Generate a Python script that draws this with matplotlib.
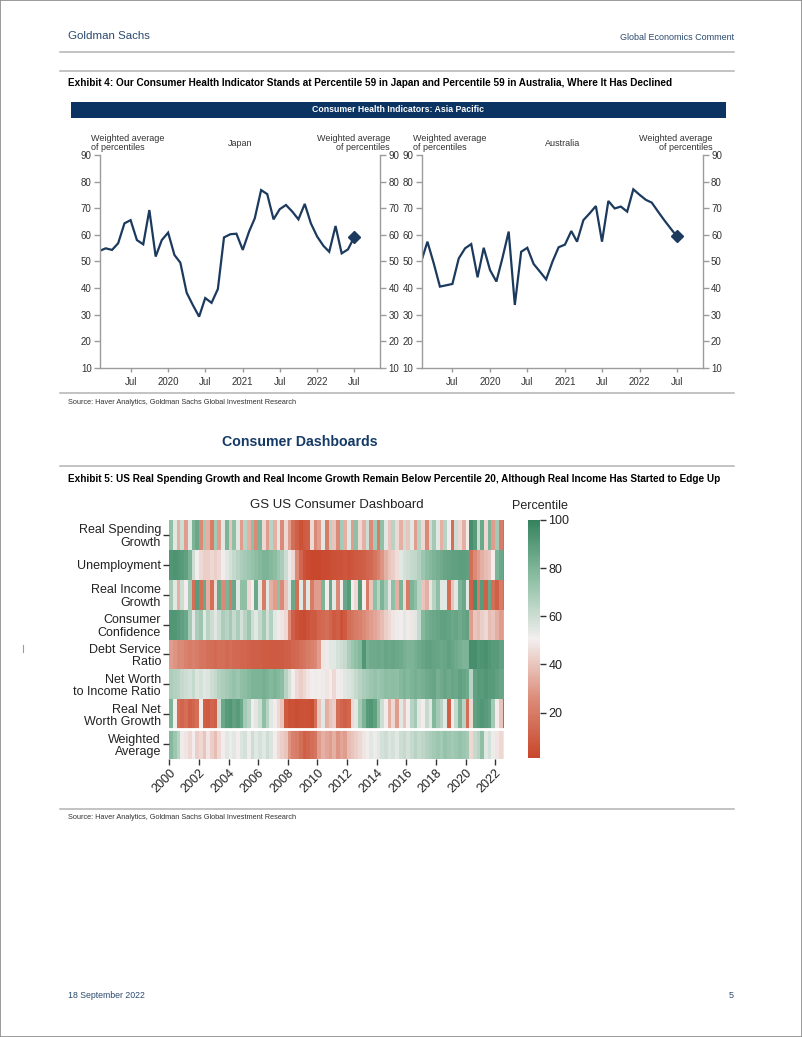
import numpy as np
import pandas as pd
import matplotlib
matplotlib.use("Agg")
import matplotlib.pyplot as plt
from matplotlib.colors import LinearSegmentedColormap
from matplotlib.lines import Line2D
from matplotlib.patches import Rectangle

W, H = 802, 1037
ARIAL = ["Liberation Sans", "DejaVu Sans"]
NAVY = "#0c3462"
SLATE = "#2c4a6e"
RULE = "#b3b3b3"
LINE = "#1b3a5e"
SOURCE = "Source: Haver Analytics, Goldman Sachs Global Investment Research"

# ---------------------------------------------------------------- exhibit 4 data (monthly, from Feb 2019)
HEALTH_START = "2019-02-01"
HEALTH_XMAX = "2022-11-05"
japan = [54.0, 54.9, 54.3, 56.8, 64.3, 65.5, 58.0, 56.4, 69.3, 51.8,
         58.0, 60.8, 52.4, 49.5, 38.2, 33.6, 29.2, 36.2, 34.4, 39.6,
         59.0, 60.2, 60.4, 54.3, 61.2, 66.2, 76.8, 75.3, 65.8, 69.6,
         71.2, 68.7, 65.8, 71.6, 64.3, 59.3, 55.8, 53.6, 63.3, 53.0,
         54.5, 59.0]
australia = [50.5, 57.4, 49.2, 40.5, 41.0, 41.5, 51.1, 54.9, 56.5, 44.0,
             55.1, 46.7, 42.4, 51.1, 61.2, 33.6, 53.6, 55.1, 49.0, 46.1,
             43.2, 49.9, 55.3, 56.3, 61.4, 57.4, 65.5, 68.0, 70.8, 57.4,
             72.7, 69.9, 70.6, 68.7, 77.1, 75.0, 73.1, 72.1, 68.7, 65.5,
             62.4, 59.5]

# ---------------------------------------------------------------- exhibit 5 data (quarterly percentiles, 2000Q1-2022Q3)
FIRST_QUARTER, LAST_QUARTER = "2000Q1", "2022Q3"
LAST_MONTH = "2022-07"
dashboard_labels = ["Real Spending\nGrowth", "Unemployment", "Real Income\nGrowth",
                    "Consumer\nConfidence", "Debt Service\nRatio",
                    "Net Worth\nto Income Ratio", "Real Net\nWorth Growth",
                    "Weighted\nAverage"]
real_spending = [75, 55, 35, 60, 30, 55, 80, 85, 25, 70, 35, 20, 70, 30, 55, 80,
                 40, 75, 55, 30, 65, 35, 75, 25, 80, 45, 30, 65, 35, 55, 25, 45,
                 30, 15, 10, 5, 8, 10, 45, 25, 30, 55, 20, 65, 40, 25, 70, 35,
                 55, 30, 75, 45, 35, 60, 25, 70, 20, 75, 55, 40, 65, 45, 35, 60,
                 40, 55, 30, 65, 45, 25, 60, 70, 55, 35, 65, 50, 15, 60, 45, 35,
                 50, 95, 90, 60, 85, 45, 80, 30, 70, 20, 15]
unemployment = [92, 93, 92, 90, 88, 80, 60, 50, 45, 42, 42, 45, 42, 45, 50, 55,
                58, 62, 65, 68, 70, 72, 74, 76, 78, 80, 80, 78, 76, 72, 68, 60,
                52, 45, 25, 12, 5, 3, 2, 2, 2, 3, 3, 4, 5, 6, 6, 7,
                6, 7, 8, 9, 10, 12, 14, 18, 22, 28, 35, 40, 42, 46, 55, 58,
                60, 62, 63, 66, 72, 76, 78, 80, 82, 84, 86, 87, 88, 88, 89, 89,
                88, 15, 25, 30, 35, 38, 40, 50, 80, 85, 88]
real_income = [70, 55, 35, 60, 50, 70, 15, 90, 15, 85, 35, 15, 45, 85, 25, 80,
               20, 85, 55, 75, 75, 45, 50, 85, 55, 20, 55, 35, 30, 75, 25, 40,
               55, 85, 15, 55, 20, 55, 20, 30, 30, 80, 50, 85, 55, 25, 50, 85,
               90, 50, 45, 90, 50, 20, 40, 75, 65, 80, 70, 55, 75, 35, 80, 45,
               20, 80, 75, 65, 40, 35, 55, 65, 75, 55, 55, 15, 40, 55, 80, 85,
               55, 10, 95, 20, 90, 10, 85, 15, 10, 20, 15]
consumer_confidence = [92, 92, 90, 88, 85, 70, 55, 68, 72, 55, 65, 60, 55, 60, 68, 65,
                       70, 62, 68, 58, 65, 72, 60, 55, 62, 70, 58, 66, 55, 52, 48, 45,
                       25, 10, 6, 4, 3, 6, 8, 8, 12, 14, 15, 12, 8, 10, 5, 8,
                       15, 18, 20, 22, 25, 28, 30, 32, 35, 38, 42, 45, 48, 52, 50, 55,
                       52, 48, 55, 62, 78, 82, 84, 85, 86, 88, 88, 87, 85, 86, 84, 86,
                       88, 30, 40, 38, 42, 45, 38, 40, 35, 30, 32]
debt_service = [30, 28, 25, 25, 22, 20, 22, 20, 18, 18, 16, 15, 14, 15, 15, 14,
                15, 14, 13, 12, 12, 11, 10, 10, 10, 9, 9, 8, 8, 8, 9, 10,
                10, 12, 14, 16, 18, 20, 22, 24, 30, 48, 52, 55, 55, 58, 60, 62,
                68, 72, 75, 78, 92, 82, 84, 84, 85, 84, 86, 85, 86, 85, 84, 82,
                80, 80, 82, 84, 86, 88, 88, 87, 86, 85, 86, 88, 86, 84, 82, 80,
                80, 95, 95, 92, 93, 94, 92, 90, 90, 88, 88]
net_worth_income = [68, 66, 65, 62, 60, 58, 62, 56, 58, 55, 56, 60, 62, 66, 68, 70,
                    72, 74, 72, 75, 76, 78, 80, 80, 80, 82, 80, 78, 80, 78, 76, 65,
                    58, 50, 45, 42, 45, 48, 50, 52, 50, 52, 48, 50, 45, 50, 52, 55,
                    56, 58, 62, 65, 68, 70, 72, 74, 72, 74, 76, 75, 76, 75, 78, 80,
                    78, 80, 82, 80, 82, 84, 85, 86, 82, 84, 86, 84, 86, 85, 88, 86,
                    84, 65, 88, 90, 90, 92, 90, 90, 88, 86, 85]
real_net_worth = [80, 50, 15, 12, 15, 10, 12, 15, 50, 10, 8, 12, 10, 60, 85, 90,
                  92, 88, 90, 85, 70, 65, 50, 55, 60, 75, 65, 55, 50, 45, 40, 8,
                  5, 5, 4, 5, 6, 5, 4, 15, 40, 55, 35, 40, 42, 15, 12, 10,
                  12, 45, 55, 70, 80, 90, 92, 88, 75, 60, 50, 35, 45, 30, 55, 40,
                  50, 65, 70, 55, 50, 62, 55, 78, 70, 65, 55, 10, 50, 62, 80, 65,
                  15, 45, 88, 90, 92, 90, 88, 70, 50, 40, 10]
weighted_average = [78, 72, 65, 52, 48, 45, 50, 42, 45, 40, 48, 42, 38, 45, 50, 55,
                    52, 55, 50, 56, 58, 52, 60, 55, 58, 55, 60, 56, 50, 45, 42, 40,
                    28, 22, 20, 15, 10, 12, 15, 18, 30, 35, 32, 30, 35, 28, 32, 30,
                    38, 40, 42, 45, 48, 50, 55, 52, 55, 58, 60, 56, 58, 55, 60, 62,
                    58, 62, 65, 62, 64, 66, 68, 70, 72, 70, 74, 72, 70, 72, 74, 72,
                    70, 45, 62, 65, 75, 55, 58, 52, 48, 45, 48]
dashboard_rows = [real_spending, unemployment, real_income, consumer_confidence,
                  debt_service, net_worth_income, real_net_worth, weighted_average]


def fx(px):
    return px / W


def fy(py):
    return 1 - py / H


def hrule(fig, y, x0=60, x1=734):
    fig.add_artist(Line2D([fx(x0), fx(x1)], [fy(y), fy(y)], color=RULE, lw=1.1))


def fitted_text(fig, x, y, s, width_px, **kw):
    """Place a text and scale its font so it spans width_px pixels (no narrow font here)."""
    t = fig.text(fx(x), fy(y), s, family=ARIAL, va="center", **kw)
    w = t.get_window_extent(fig.canvas.get_renderer()).width
    t.set_fontsize(t.get_fontsize() * width_px / w)
    return t


def health_panel(fig, left, right, values, country):
    top, bottom = 155, 367.7
    ax = fig.add_axes([fx(left), fy(bottom), (right - left) / W, (bottom - top) / H])
    dates = pd.date_range(HEALTH_START, periods=len(values), freq="MS")
    ax.plot(dates, values, color=LINE, lw=1.6, solid_joinstyle="miter")
    ax.plot(dates[-1:], values[-1:], marker="D", ms=6, color=LINE, ls="none")
    ax.set_ylim(10, 90)
    ax.set_xlim(dates[0], pd.Timestamp(HEALTH_XMAX))
    ax.set_yticks(range(10, 91, 10))
    ticks = pd.date_range("2019-07-01", "2022-07-01", freq="6MS")
    ax.set_xticks(ticks)
    ax.set_xticklabels(["Jul" if t.month == 7 else str(t.year) for t in ticks])
    ax.spines["top"].set_visible(False)
    for side in ("left", "right", "bottom"):
        ax.spines[side].set_color("#9c9c9c")
        ax.spines[side].set_linewidth(1)
    ax.tick_params(axis="y", left=True, right=True, labelleft=True, labelright=True,
                   length=4, width=1, color="#9c9c9c", labelsize=7, labelcolor="#333333", pad=2)
    ax.tick_params(axis="x", length=3, width=1, color="#9c9c9c", labelsize=7,
                   labelcolor="#333333", pad=4)
    for lab in ax.get_xticklabels() + ax.yaxis.get_ticklabels() + ax.yaxis.get_ticklabels(minor=False):
        lab.set_family(ARIAL)
    for tick in ax.yaxis.get_major_ticks():
        tick.label2.set_family(ARIAL)
    fig.text(fx(left - 9), fy(143), "Weighted average\nof percentiles", family=ARIAL,
             size=6.5, color="#333333", ha="left", va="center", linespacing=0.95)
    fig.text(fx(right + 10), fy(143), "Weighted average\nof percentiles", family=ARIAL,
             size=6.5, color="#333333", ha="right", va="center", linespacing=0.95)
    fig.text(fx((left + right) / 2), fy(143.5), country, family=ARIAL, size=6.5,
             color="#333333", ha="center", va="center")
    return ax


fig = plt.figure(figsize=(W / 100, H / 100), dpi=100)
fig.add_artist(Rectangle((0, 0), 1, 1, transform=fig.transFigure, fill=False,
                         ec="#8a8a8a", lw=1.2))

# ---------------------------------------------------------------- page header
fitted_text(fig, 68, 36, "Goldman Sachs", 82, color=SLATE)
fitted_text(fig, 734, 38, "Global Economics Comment", 114, color=SLATE, ha="right")
hrule(fig, 51.5)

# ---------------------------------------------------------------- exhibit 4
hrule(fig, 70.5)
fitted_text(fig, 68, 83, "Exhibit 4: Our Consumer Health Indicator Stands at Percentile 59 in Japan "
            "and Percentile 59 in Australia, Where It Has Declined", 606,
            weight="bold", color="black")
fig.add_artist(Rectangle((fx(71), fy(118)), fx(726) - fx(71), 16 / H,
                         transform=fig.transFigure, color=NAVY, lw=0))
fitted_text(fig, 398.5, 110, "Consumer Health Indicators: Asia Pacific", 170,
            weight="bold", color="white", ha="center")

health_panel(fig, 100, 380, japan, "Japan")
health_panel(fig, 421.7, 702.7, australia, "Australia")

hrule(fig, 393)
fitted_text(fig, 68, 403, SOURCE, 229, color="#333333")

# ---------------------------------------------------------------- section heading
fitted_text(fig, 222, 441.5, "Consumer Dashboards", 155, weight="bold", color="#153a66")

# ---------------------------------------------------------------- exhibit 5
hrule(fig, 466)
fitted_text(fig, 68, 479.5, "Exhibit 5: US Real Spending Growth and Real Income Growth Remain Below "
            "Percentile 20, Although Real Income Has Started to Edge Up", 650,
            weight="bold", color="black")

quarters = pd.period_range(FIRST_QUARTER, LAST_QUARTER, freq="Q")
q_starts = np.array([q.year + (q.quarter - 1) / 4 for q in quarters])
end = pd.Period(LAST_MONTH, freq="M")
x_edges = np.append(q_starts, end.year + end.month / 12)
matrix = np.array(dashboard_rows, dtype=float)

cmap = LinearSegmentedColormap.from_list(
    "gs_rdgn", ["#c8462b", "#dc8c79", "#f3efef", "#8fc0a6", "#35835e"])

hm_left, hm_right, hm_top, hm_bottom = 169.3, 503.8, 520, 759
ax = fig.add_axes([fx(hm_left), fy(hm_bottom), (hm_right - hm_left) / W, (hm_bottom - hm_top) / H])
mesh = ax.pcolormesh(x_edges, np.arange(len(dashboard_rows) + 1), matrix,
                     cmap=cmap, vmin=1, vmax=100, shading="flat")
ax.set_ylim(len(dashboard_rows), 0)
ax.set_xlim(x_edges[0], x_edges[-1])
ax.axhline(len(dashboard_rows) - 1, color="white", lw=2)
ax.set_yticks(np.arange(len(dashboard_rows)) + 0.5)
ax.set_yticklabels(dashboard_labels, family=ARIAL, size=9, color="#222222", linespacing=1.05)
ax.set_xticks(range(2000, 2023, 2))
ax.set_xticklabels([str(y) for y in range(2000, 2023, 2)], family=ARIAL, size=9,
                   color="#222222", rotation=45, ha="right", rotation_mode="anchor")
ax.tick_params(length=4, width=1, color="#333333", pad=2)
for spine in ax.spines.values():
    spine.set_visible(False)
fig.text(fx((hm_left + hm_right) / 2), fy(505.5), "GS US Consumer Dashboard", family=ARIAL,
         size=9.5, color="#222222", ha="center", va="center")

cax = fig.add_axes([fx(528.3), fy(758.3), 11.7 / W, (758.3 - 520) / H])
cb = fig.colorbar(mesh, cax=cax, ticks=[20, 40, 60, 80, 100])
cb.outline.set_visible(False)
cax.tick_params(length=4, width=1, color="#333333", labelsize=9, labelcolor="#222222", pad=2)
for lab in cax.get_yticklabels():
    lab.set_family(ARIAL)
fig.text(fx(540), fy(506), "Percentile", family=ARIAL, size=9, color="#222222",
         ha="center", va="center")

hrule(fig, 809)
fitted_text(fig, 68, 817.5, SOURCE, 229, color="#333333")

# stray margin mark
fig.add_artist(Line2D([fx(22.5), fx(22.5)], [fy(645), fy(652)], color="#9a9a9a", lw=0.8))

# ---------------------------------------------------------------- footer
fitted_text(fig, 68, 996, "18 September 2022", 77, color=SLATE)
fitted_text(fig, 734, 996, "5", 5, color=SLATE, ha="right")

fig.savefig("out.png", dpi=100)
